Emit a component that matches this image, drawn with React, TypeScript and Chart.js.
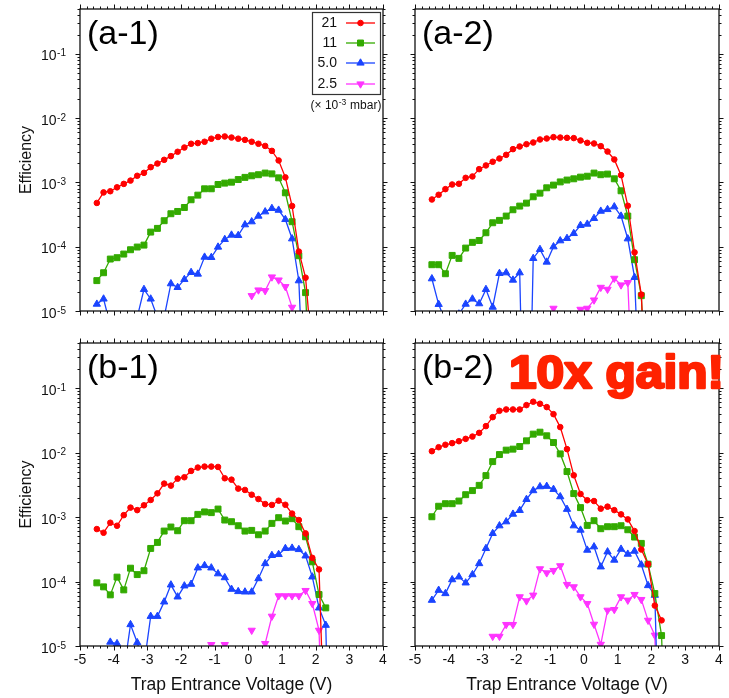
import React, { useEffect, useRef } from 'react';
import { Chart, registerables } from 'chart.js';

Chart.register(...registerables);

const FONT = "'Liberation Sans', Arial, Helvetica, sans-serif";
const W = 729;
const H = 698;

// ---------- data ----------
const VOLTAGES = [
  -4.5, -4.3, -4.1, -3.9, -3.7, -3.5, -3.3, -3.1, -2.9, -2.7, -2.5, -2.3,
  -2.1, -1.9, -1.7, -1.5, -1.3, -1.1, -0.9, -0.7, -0.5, -0.3, -0.1, 0.1,
  0.3, 0.5, 0.7, 0.9, 1.1, 1.3, 1.5, 1.7, 1.9, 2.1, 2.3, 2.5,
];

const X_MIN = -5;
const X_MAX = 4;
const Y_MIN = 1e-5;
const Y_MAX = 0.5;
const Y_TICK_EXPONENTS = ['-5', '-4', '-3', '-2', '-1'];
const PRESSURE_LABELS = ['21', '11', '5.0', '2.5'];
const PRESSURE_UNIT = ['(\u00d7 10', '-3', ' mbar)'];
const X_TITLE = 'Trap Entrance Voltage (V)';
const Y_TITLE = 'Efficiency';
const ANNOTATION = '10x gain!';

// (a-1)
const A1_21 = [4.8e-4, 7.0e-4, 7.3e-4, 8.4e-4, 9.5e-4, 1.07e-3, 1.27e-3, 1.41e-3, 1.73e-3, 1.97e-3, 2.25e-3, 2.57e-3, 3.0e-3, 3.5e-3, 4.0e-3, 4.1e-3, 4.3e-3, 4.8e-3, 5.1e-3, 5.2e-3, 5.0e-3, 4.8e-3, 4.6e-3, 4.3e-3, 4.0e-3, 3.7e-3, 3.1e-3, 2.2e-3, 1.2e-3, 4.3e-4, 8.4e-5, 3.3e-5, 2e-6, null, null, null];
const A1_11 = [2.97e-5, 3.94e-5, 6.43e-5, 6.75e-5, 7.69e-5, 8.98e-5, 9.89e-5, 1.06e-4, 1.69e-4, 1.93e-4, 2.54e-4, 3.26e-4, 3.54e-4, 4.08e-4, 5.38e-4, 6.35e-4, 7.97e-4, 7.97e-4, 9.3e-4, 9.77e-4, 1.01e-3, 1.11e-3, 1.2e-3, 1.27e-3, 1.32e-3, 1.4e-3, 1.36e-3, 1.18e-3, 6.9e-4, 2.45e-4, 7.24e-5, 1.93e-5, 1e-7, null, null, null];
const A1_5 = [1.28e-5, 1.54e-5, 6e-6, 2e-6, 2e-6, 2e-6, 8e-6, 2.17e-5, 1.54e-5, 8e-6, 8e-6, 2.66e-5, 2.33e-5, 3.1e-5, 3.99e-5, 3.76e-5, 6.9e-5, 6.83e-5, 9.89e-5, 1.3e-4, 1.52e-4, 1.5e-4, 2.2e-4, 2.45e-4, 3.0e-4, 3.5e-4, 3.95e-4, 3.71e-4, 2.66e-4, 1.33e-4, 2.96e-5, 1e-7, null, null, null, null];
const A1_2_5 = [null, null, null, null, null, null, null, null, null, null, null, null, null, null, null, null, null, null, null, null, null, null, null, 1.73e-5, 2.12e-5, 2.07e-5, 3.38e-5, 3.03e-5, 2.39e-5, 1.14e-5, null, null, null, null, null, null];

// (a-2)
const A2_21 = [5.44e-4, 6.43e-4, 7.87e-4, 9.3e-4, 9.53e-4, 1.18e-3, 1.24e-3, 1.61e-3, 1.84e-3, 2.1e-3, 2.36e-3, 2.69e-3, 3.3e-3, 3.63e-3, 3.94e-3, 4.19e-3, 4.66e-3, 4.83e-3, 5.07e-3, 5.0e-3, 4.95e-3, 4.9e-3, 4.5e-3, 4.14e-3, 4.04e-3, 3.67e-3, 3.03e-3, 2.28e-3, 1.3e-3, 4.34e-4, 8.17e-5, 1.8e-5, 1e-7, null, null, null];
const A2_11 = [5.25e-5, 5.25e-5, 3.8e-5, 7.33e-5, 6.59e-5, 9.53e-5, 1.17e-4, 1.25e-4, 1.65e-4, 2.36e-4, 2.57e-4, 3.0e-4, 3.76e-4, 4.29e-4, 4.77e-4, 5.99e-4, 6.82e-4, 8.26e-4, 9.1e-4, 1.02e-3, 1.09e-3, 1.14e-3, 1.21e-3, 1.25e-3, 1.4e-3, 1.32e-3, 1.35e-3, 1.14e-3, 7.42e-4, 3.0e-4, 6.28e-5, 1.73e-5, 1e-7, null, null, null];
const A2_5 = [3.18e-5, 1.27e-5, 7e-6, 3e-6, 9e-6, 1.28e-5, 1.54e-5, 1.3e-5, 2.17e-5, 1.15e-5, 3.85e-5, 3.94e-5, 3.03e-5, 3.94e-5, 1e-9, 6.59e-5, 9.09e-5, 5.78e-5, 1.0e-4, 1.24e-4, 1.35e-4, 1.61e-4, 2.15e-4, 2.25e-4, 2.76e-4, 3.58e-4, 3.8e-4, 4.19e-4, 3.0e-4, 1.33e-4, 3.34e-5, 1e-7, null, null, null, null];
const A2_2_5 = [null, null, null, null, null, null, null, null, null, null, null, null, null, null, null, null, null, null, 1.1e-5, null, null, null, 1.06e-5, 1.1e-5, 1.48e-5, 2.33e-5, 2.17e-5, 3.22e-5, 2.54e-5, 2.76e-5, 1e-7, null, null, null, null, null];

// (b-1)
const B1_21 = [6.51e-4, 5.71e-4, 8.16e-4, 7.33e-4, 1.07e-3, 1.4e-3, 1.28e-3, 1.52e-3, 1.84e-3, 2.33e-3, 3.3e-3, 3.07e-3, 3.94e-3, 4.14e-3, 5.19e-3, 5.85e-3, 6.06e-3, 6.06e-3, 5.98e-3, 3.99e-3, 3.8e-3, 2.76e-3, 2.63e-3, 2.22e-3, 1.9e-3, 1.59e-3, 1.54e-3, 1.79e-3, 1.55e-3, 1.13e-3, 8.98e-4, 5.57e-4, 2.33e-4, 1.54e-4, 1e-7, null];
const B1_11 = [9.53e-5, 8.26e-5, 6.21e-5, 1.17e-4, 7.42e-5, 1.61e-4, 1.28e-4, 1.47e-4, 3.26e-4, 4.04e-4, 6.06e-4, 7.0e-4, 6.13e-4, 8.77e-4, 8.77e-4, 1.1e-3, 1.2e-3, 1.17e-3, 1.33e-3, 8.98e-4, 8.46e-4, 7.33e-4, 6.06e-4, 6.21e-4, 5.31e-4, 6.06e-4, 7.97e-4, 9.77e-4, 8.67e-4, 9.42e-4, 7.08e-4, 4.94e-4, 2.02e-4, 6.28e-5, 3.9e-5, null];
const B1_5 = [null, null, 1.15e-5, 1.09e-5, 4e-6, 2.15e-5, 1.13e-5, 5e-6, 2.89e-5, 2.89e-5, 4.83e-5, 8.87e-5, 5.78e-5, 8.57e-5, 9.09e-5, 1.63e-4, 1.77e-4, 1.63e-4, 1.32e-4, 1.15e-4, 7.6e-5, 7.0e-5, 6.9e-5, 6.9e-5, 1.11e-4, 1.9e-4, 2.54e-4, 2.63e-4, 3.26e-4, 3.3e-4, 3.14e-4, 2.5e-4, 1.18e-4, 3.9e-5, 2.1e-5, 1e-9];
const B1_2_5 = [null, null, null, null, null, null, null, null, null, null, null, null, null, null, null, null, null, 1.05e-5, null, 1.05e-5, null, null, null, 1.75e-5, null, 1.09e-5, 2.89e-5, 5.99e-5, 5.99e-5, 5.99e-5, 5.99e-5, 7.24e-5, 4.55e-5, 1.75e-5, 1e-8, null];

// (b-2)
const B2_21 = [1.05e-2, 1.21e-2, 1.32e-2, 1.4e-2, 1.5e-2, 1.63e-2, 1.77e-2, 2.02e-2, 2.57e-2, 3.54e-2, 4.44e-2, 4.66e-2, 4.66e-2, 4.66e-2, 5.44e-2, 6.14e-2, 5.71e-2, 5.07e-2, 3.94e-2, 2.48e-2, 1.13e-2, 4.44e-3, 2.28e-3, 1.82e-3, 1.77e-3, 1.35e-3, 1.45e-3, 1.28e-3, 1.1e-3, 9.2e-4, 6.06e-4, 3.14e-4, 1.86e-4, 4.24e-5, 2.5e-5, null];
const B2_11 = [1.01e-3, 1.47e-3, 1.61e-3, 1.61e-3, 1.77e-3, 2.22e-3, 2.57e-3, 3.1e-3, 4.39e-3, 7.24e-3, 9.31e-3, 1.09e-2, 1.13e-2, 1.24e-2, 1.52e-2, 1.93e-2, 2.07e-2, 1.82e-2, 1.43e-2, 9.53e-3, 5.07e-3, 2.31e-3, 1.4e-3, 7.42e-4, 8.77e-4, 6.59e-4, 7.08e-4, 7.08e-4, 7.33e-4, 6.35e-4, 4.89e-4, 3.9e-4, 1.86e-4, 6.51e-5, 1.45e-5, 1e-8];
const B2_5 = [5.13e-5, 7.33e-5, 6.51e-5, 1.07e-4, 1.18e-4, 9.53e-5, 1.28e-4, 1.9e-4, 3.26e-4, 5.57e-4, 7.33e-4, 8.46e-4, 1.11e-3, 1.27e-3, 1.88e-3, 2.57e-3, 2.96e-3, 3.0e-3, 2.69e-3, 2.07e-3, 1.32e-3, 7.33e-4, 6.28e-4, 3.07e-4, 3.46e-4, 1.69e-4, 2.89e-4, 2.15e-4, 3.18e-4, 2.66e-4, 2.96e-4, 1.82e-4, 8.67e-5, 6.13e-5, 1e-8, null];
const B2_2_5 = [null, null, null, null, null, null, null, null, null, 1.41e-5, 1.41e-5, 2.15e-5, 2.15e-5, 5.78e-5, 5.0e-5, 6.13e-5, 1.57e-4, 1.36e-4, 1.48e-4, 1.75e-4, 8.98e-5, 8.26e-5, 5.78e-5, 4.55e-5, 2.17e-5, 1.06e-5, 3.58e-5, 3.67e-5, 5.78e-5, 5.13e-5, 6.28e-5, 5.25e-5, 2.5e-5, 1.47e-5, 1e-8, null];

// ---------- styles ----------
const SERIES_STYLE = [
  { color: '#ff0000', pointStyle: 'circle', radius: 2.8, rotation: 0 },
  { color: '#33aa00', pointStyle: 'rect', radius: 4.2, rotation: 0 },
  { color: '#1a44ff', pointStyle: 'triangle', radius: 4.2, rotation: 0 },
  { color: '#ff33ff', pointStyle: 'triangle', radius: 4.2, rotation: 180 },
];

type Area = { left: number; top: number; right: number; bottom: number };
type PanelCfg = {
  id: string;
  label: string;
  area: Area;
  showX: boolean;
  showY: boolean;
  legend: boolean;
  annotation: boolean;
  series: (number | null)[][];
};

const PANELS: PanelCfg[] = [
  { id: 'a1', label: '(a-1)', area: { left: 80, top: 9, right: 383, bottom: 311 }, showX: false, showY: true, legend: true, annotation: false, series: [A1_21, A1_11, A1_5, A1_2_5] },
  { id: 'a2', label: '(a-2)', area: { left: 415, top: 9, right: 719, bottom: 311 }, showX: false, showY: false, legend: false, annotation: false, series: [A2_21, A2_11, A2_5, A2_2_5] },
  { id: 'b1', label: '(b-1)', area: { left: 80, top: 343, right: 383, bottom: 646 }, showX: true, showY: true, legend: false, annotation: false, series: [B1_21, B1_11, B1_5, B1_2_5] },
  { id: 'b2', label: '(b-2)', area: { left: 415, top: 343, right: 719, bottom: 646 }, showX: true, showY: false, legend: false, annotation: true, series: [B2_21, B2_11, B2_5, B2_2_5] },
];

const Y_AXIS_W = 80;
const X_AXIS_H = 52;

function drawMarker(ctx: CanvasRenderingContext2D, st: any, x: number, y: number) {
  ctx.fillStyle = st.color;
  ctx.strokeStyle = st.color;
  ctx.lineWidth = 1;
  ctx.beginPath();
  const r = st.radius;
  if (st.pointStyle === 'circle') {
    ctx.arc(x, y, r, 0, Math.PI * 2);
  } else if (st.pointStyle === 'rect') {
    const s = r * Math.SQRT1_2;
    ctx.rect(x - s, y - s, 2 * s, 2 * s);
  } else {
    let rad = (st.rotation * Math.PI) / 180;
    ctx.moveTo(x + Math.sin(rad) * r, y - Math.cos(rad) * r);
    rad += (2 * Math.PI) / 3;
    ctx.lineTo(x + Math.sin(rad) * r, y - Math.cos(rad) * r);
    rad += (2 * Math.PI) / 3;
    ctx.lineTo(x + Math.sin(rad) * r, y - Math.cos(rad) * r);
    ctx.closePath();
  }
  ctx.fill();
  ctx.stroke();
}

function decorPlugin(cfg: PanelCfg) {
  return {
    id: 'decor-' + cfg.id,
    afterDraw(chart: any) {
      const { ctx, chartArea: a, scales } = chart;
      const xs = scales.x;
      const ys = scales.y;
      ctx.save();

      // frame
      ctx.strokeStyle = '#111';
      ctx.lineWidth = 1.3;
      ctx.strokeRect(a.left, a.top, a.right - a.left, a.bottom - a.top);

      // outward ticks
      ctx.lineWidth = 1;
      ctx.beginPath();
      const nx = Math.round((X_MAX - X_MIN) / 0.2);
      for (let k = 0; k <= nx; k++) {
        const v = X_MIN + k * 0.2;
        const px = Math.round(xs.getPixelForValue(v)) + 0.5;
        const len = k % 5 === 0 ? 4.5 : 2.5;
        ctx.moveTo(px, a.bottom);
        ctx.lineTo(px, a.bottom + len);
        ctx.moveTo(px, a.top);
        ctx.lineTo(px, a.top - len);
      }
      for (let e = -5; e <= -1; e++) {
        for (let m = 1; m <= 9; m++) {
          const v = m * Math.pow(10, e);
          if (v > Y_MAX * 1.0001) continue;
          const py = Math.round(ys.getPixelForValue(v)) + 0.5;
          const len = m === 1 ? 4.5 : 2.5;
          ctx.moveTo(a.left, py);
          ctx.lineTo(a.left - len, py);
          ctx.moveTo(a.right, py);
          ctx.lineTo(a.right + len, py);
        }
      }
      ctx.stroke();

      ctx.fillStyle = '#111';
      // y tick labels with superscript exponents
      if (cfg.showY) {
        Y_TICK_EXPONENTS.forEach((ex) => {
          const py = ys.getPixelForValue(Math.pow(10, Number(ex)));
          ctx.textAlign = 'right';
          ctx.textBaseline = 'alphabetic';
          ctx.font = `10px ${FONT}`;
          const sw = ctx.measureText(ex).width;
          const xr = a.left - 14;
          ctx.fillText(ex, xr, py + 2.5);
          ctx.font = `14px ${FONT}`;
          ctx.fillText('10', xr - sw - 0.5, py + 6.5);
        });
      }

      // panel label
      ctx.textAlign = 'left';
      ctx.textBaseline = 'alphabetic';
      ctx.font = `34px ${FONT}`;
      ctx.fillStyle = '#000';
      ctx.fillText(cfg.label, a.left + 7, a.top + 35);

      // legend
      if (cfg.legend) {
        ctx.strokeStyle = '#333';
        ctx.lineWidth = 1.2;
        ctx.strokeRect(312.5, 12.5, 68, 82);
        const rows = [23, 43, 63, 84];
        PRESSURE_LABELS.forEach((lab, i) => {
          const y = rows[i];
          const st = SERIES_STYLE[i];
          ctx.fillStyle = '#111';
          ctx.font = `14px ${FONT}`;
          ctx.textAlign = 'right';
          ctx.textBaseline = 'middle';
          ctx.fillText(lab, 337, y);
          ctx.strokeStyle = st.color;
          ctx.lineWidth = 1.3;
          ctx.beginPath();
          ctx.moveTo(346, y);
          ctx.lineTo(375, y);
          ctx.stroke();
          drawMarker(ctx, st, 360.5, y);
        });
        // unit text
        ctx.fillStyle = '#111';
        ctx.textAlign = 'left';
        ctx.textBaseline = 'alphabetic';
        ctx.font = `12px ${FONT}`;
        const w1 = ctx.measureText(PRESSURE_UNIT[0]).width;
        const w3 = ctx.measureText(PRESSURE_UNIT[2]).width;
        ctx.font = `8.5px ${FONT}`;
        const w2 = ctx.measureText(PRESSURE_UNIT[1]).width;
        const total = w1 + w2 + w3 + 1;
        const x0 = 346 - total / 2;
        const base = 109;
        ctx.font = `12px ${FONT}`;
        ctx.fillText(PRESSURE_UNIT[0], x0, base);
        ctx.font = `8.5px ${FONT}`;
        ctx.fillText(PRESSURE_UNIT[1], x0 + w1 + 0.5, base - 4.5);
        ctx.font = `12px ${FONT}`;
        ctx.fillText(PRESSURE_UNIT[2], x0 + w1 + w2 + 1, base);
      }

      // annotation
      if (cfg.annotation) {
        ctx.fillStyle = '#ff2200';
        ctx.strokeStyle = '#ff2200';
        ctx.lineWidth = 2.6;
        ctx.lineJoin = 'round';
        ctx.textAlign = 'left';
        ctx.textBaseline = 'alphabetic';
        ctx.font = `bold 47px ${FONT}`;
        const w = ctx.measureText(ANNOTATION).width;
        const sx = 215 / w;
        ctx.translate(509, 388);
        ctx.scale(sx, 1);
        ctx.strokeText(ANNOTATION, 0, 0);
        ctx.fillText(ANNOTATION, 0, 0);
      }

      ctx.restore();
    },
  };
}

function buildConfig(cfg: PanelCfg): any {
  const a = cfg.area;
  return {
    type: 'line',
    data: {
      datasets: cfg.series.map((vals, i) => {
        const st = SERIES_STYLE[i];
        return {
          label: PRESSURE_LABELS[i],
          data: VOLTAGES.map((v, j) => ({ x: v, y: vals[j] })),
          borderColor: st.color,
          backgroundColor: st.color,
          pointStyle: st.pointStyle,
          pointRadius: st.radius,
          pointHoverRadius: st.radius,
          pointRotation: st.rotation,
          pointBorderWidth: 1,
          borderWidth: 1.3,
          tension: 0,
          spanGaps: false,
        };
      }),
    },
    options: {
      responsive: false,
      animation: false,
      events: [],
      layout: {
        padding: {
          left: a.left - Y_AXIS_W,
          top: a.top,
          right: W - a.right,
          bottom: H - a.bottom - X_AXIS_H,
        },
      },
      plugins: {
        legend: { display: false },
        tooltip: { enabled: false },
      },
      scales: {
        x: {
          type: 'linear',
          min: X_MIN,
          max: X_MAX,
          grid: { display: false, drawTicks: false },
          border: { display: false },
          ticks: {
            display: cfg.showX,
            stepSize: 1,
            color: '#111',
            padding: 6,
            font: { family: FONT, size: 14 },
          },
          title: {
            display: cfg.showX,
            text: X_TITLE,
            color: '#111',
            font: { family: FONT, size: 17.5 },
            padding: { top: 0, bottom: 2 },
          },
          afterFit: (s: any) => {
            s.height = X_AXIS_H;
          },
        },
        y: {
          type: 'logarithmic',
          min: Y_MIN,
          max: Y_MAX,
          grid: { display: false, drawTicks: false },
          border: { display: false },
          ticks: { display: false },
          title: {
            display: cfg.showY,
            text: Y_TITLE,
            color: '#111',
            font: { family: FONT, size: 16 },
            padding: { top: 17, bottom: 0 },
          },
          afterFit: (s: any) => {
            s.width = Y_AXIS_W;
          },
        },
      },
    },
    plugins: [decorPlugin(cfg)],
  };
}

function Panel({ cfg }: { cfg: PanelCfg }) {
  const ref = useRef<HTMLCanvasElement>(null);
  useEffect(() => {
    if (!ref.current) return;
    const chart = new Chart(ref.current, buildConfig(cfg));
    return () => chart.destroy();
  }, [cfg]);
  return (
    <canvas
      ref={ref}
      width={W}
      height={H}
      style={{ position: 'absolute', left: 0, top: 0, width: W, height: H }}
    />
  );
}

export default function App() {
  return (
    <div style={{ position: 'absolute', left: 0, top: 0, width: W, height: H, background: '#fff', overflow: 'hidden' }}>
      {PANELS.map((p) => (
        <Panel key={p.id} cfg={p} />
      ))}
    </div>
  );
}
